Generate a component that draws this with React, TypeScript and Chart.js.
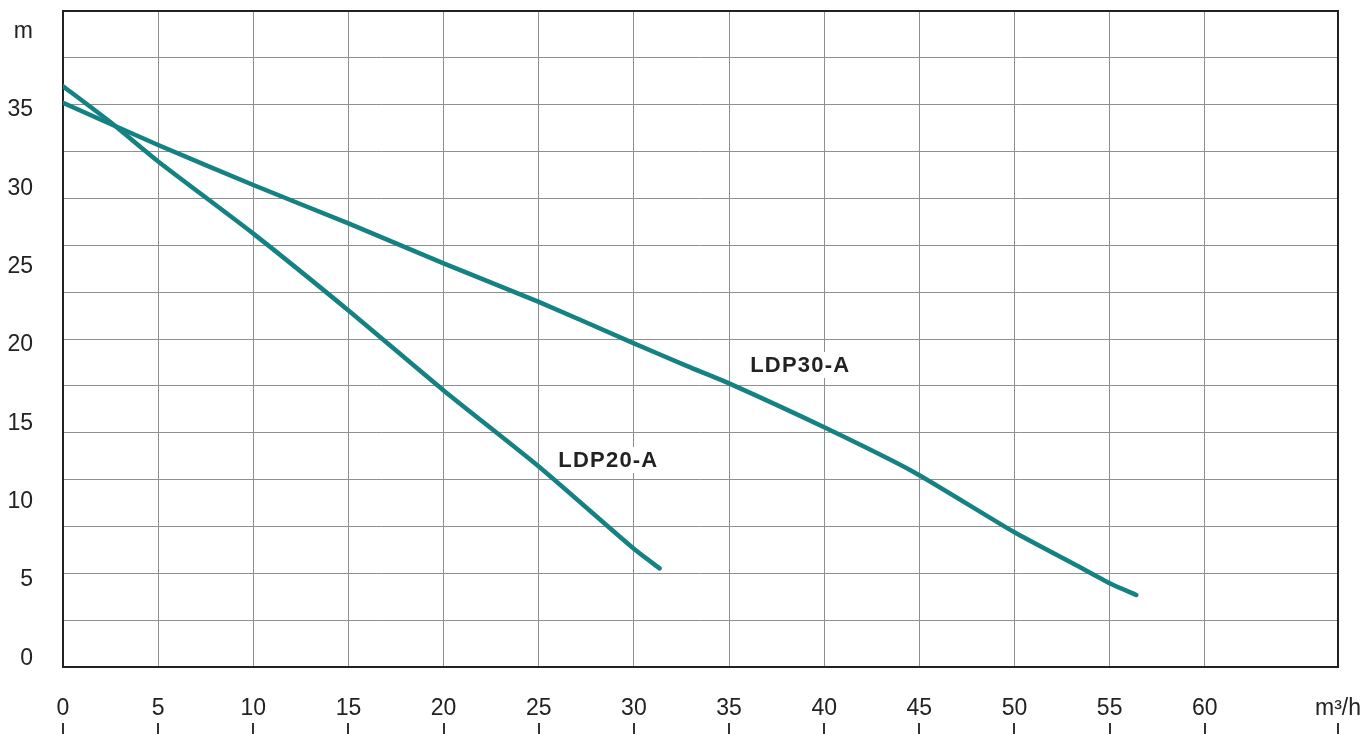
import React, { useEffect, useRef } from "react";
import { Chart, registerables } from "chart.js";

Chart.register(...registerables);

// ---- data (flow m³/h, head m) ----
const FLOW_20 = [0, 2.5, 5, 10, 15, 20, 25, 30, 31.35];
const HEAD_20 = [36.5, 34.2, 31.7, 27.1, 22.2, 17.1, 12.25, 7.0, 5.75];
const FLOW_30 = [0, 5, 10, 15, 20, 25, 30, 32.8, 35, 40, 44.7, 50, 53.4, 55, 56.4];
const HEAD_30 = [35.45, 32.75, 30.2, 27.75, 25.2, 22.75, 20.1, 18.65, 17.55, 14.75, 11.9, 8.05, 5.85, 4.8, 4.05];

const SERIES_NAMES = ["LDP20-A", "LDP30-A"];
const X_TICKS = [0, 5, 10, 15, 20, 25, 30, 35, 40, 45, 50, 55, 60];
const X_UNIT = "m³/h";
const Y_TICKS = [0, 5, 10, 15, 20, 25, 30, 35];
const Y_UNIT = "m";
const Y_UNIT_AT = 40;

// axis ranges
const X_MIN = 0;
const X_MAX = 67;
const Y_MIN = -0.54;
const Y_MAX = 41.3;
const Y_GRID_COUNT = 14;

// annotation anchors (data coords)
const LABEL_POS = [
  { x: 28.66, y: 12.66 },
  { x: 38.74, y: 18.72 },
];

const LINE_COLOR = "#148282";
const GRID_COLOR = "#8f8f8f";
const DARK = "#222222";
const FONT = "'Liberation Sans', Arial, Helvetica, sans-serif";

const near = (a: number, b: number) => Math.abs(a - b) < 1e-6;

const zeroPad = (axis: any) => {
  axis.paddingTop = 0;
  axis.paddingBottom = 0;
  axis.paddingLeft = 0;
  axis.paddingRight = 0;
};

export default function App() {
  const ref = useRef<HTMLCanvasElement | null>(null);

  useEffect(() => {
    document.body.style.margin = "0";
    document.body.style.overflow = "hidden";
    const canvas = ref.current;
    if (!canvas) return;

    const yGrid: number[] = [];
    for (let k = 1; k < Y_GRID_COUNT; k++) {
      yGrid.push(Y_MIN + (k * (Y_MAX - Y_MIN)) / Y_GRID_COUNT);
    }
    const yLabelVals = [...Y_TICKS, Y_UNIT_AT];
    const isYLabel = (v: number) => yLabelVals.some((t) => near(t, v));

    const framePlugin = {
      id: "frame",
      beforeDatasetsDraw(chart: any) {
        const { ctx, chartArea } = chart;
        ctx.save();
        ctx.strokeStyle = DARK;
        ctx.lineWidth = 2;
        ctx.strokeRect(
          chartArea.left,
          chartArea.top,
          chartArea.right - chartArea.left,
          chartArea.bottom - chartArea.top
        );
        ctx.restore();
      },
      afterDatasetsDraw(chart: any) {
        const { ctx } = chart;
        const xs = chart.scales.x;
        const ys = chart.scales.y;
        ctx.save();
        ctx.font = `bold 22px ${FONT}`;
        try {
          (ctx as any).letterSpacing = "1.2px";
        } catch (e) {}
        ctx.textAlign = "center";
        ctx.textBaseline = "middle";
        SERIES_NAMES.forEach((name, i) => {
          const px = xs.getPixelForValue(LABEL_POS[i].x);
          const py = ys.getPixelForValue(LABEL_POS[i].y);
          const w = ctx.measureText(name).width;
          ctx.fillStyle = "#ffffff";
          ctx.fillRect(px - w / 2 - 4, py - 13, w + 8, 26);
          ctx.fillStyle = DARK;
          ctx.fillText(name, px, py + 1);
        });
        ctx.restore();
      },
      afterDraw(chart: any) {
        const { ctx } = chart;
        const xs = chart.scales.x;
        ctx.save();
        ctx.strokeStyle = "#333";
        ctx.lineWidth = 2;
        xs.ticks.forEach((t: any) => {
          const px = Math.round(xs.getPixelForValue(t.value));
          ctx.beginPath();
          ctx.moveTo(px, xs.top + 56);
          ctx.lineTo(px, chart.height);
          ctx.stroke();
        });
        ctx.restore();
      },
    };

    const chart = new Chart(canvas, {
      type: "line",
      data: {
        datasets: [
          {
            label: SERIES_NAMES[0],
            data: FLOW_20.map((x, i) => ({ x, y: HEAD_20[i] })),
            borderColor: LINE_COLOR,
            borderWidth: 4.5,
            pointRadius: 0,
            tension: 0.2,
            borderCapStyle: "round",
            borderJoinStyle: "round",
            fill: false,
          },
          {
            label: SERIES_NAMES[1],
            data: FLOW_30.map((x, i) => ({ x, y: HEAD_30[i] })),
            borderColor: LINE_COLOR,
            borderWidth: 4.5,
            pointRadius: 0,
            tension: 0.2,
            borderCapStyle: "round",
            borderJoinStyle: "round",
            fill: false,
          },
        ],
      },
      options: {
        animation: false,
        responsive: true,
        maintainAspectRatio: false,
        layout: { padding: { top: 11, right: 25, left: 0, bottom: 0 } },
        plugins: {
          legend: { display: false },
          tooltip: { enabled: false },
        },
        scales: {
          x: {
            type: "linear",
            min: X_MIN,
            max: X_MAX,
            afterBuildTicks: (axis: any) => {
              axis.ticks = [...X_TICKS, X_MAX].map((v) => ({ value: v }));
            },
            afterFit: (axis: any) => {
              axis.height = 67;
              zeroPad(axis);
            },
            border: { display: false },
            grid: {
              drawTicks: false,
              lineWidth: 1,
              color: (c: any) =>
                c.tick && (near(c.tick.value, X_MIN) || near(c.tick.value, X_MAX))
                  ? "rgba(0,0,0,0)"
                  : GRID_COLOR,
            },
            ticks: {
              autoSkip: false,
              maxRotation: 0,
              padding: 28,
              color: DARK,
              font: { family: FONT, size: 23 },
              callback: (v: any) => (near(Number(v), X_MAX) ? X_UNIT : String(v)),
            },
          },
          y: {
            type: "linear",
            min: Y_MIN,
            max: Y_MAX,
            afterBuildTicks: (axis: any) => {
              const vals = [...yGrid, ...yLabelVals].sort((a, b) => a - b);
              axis.ticks = vals.map((v) => ({ value: v }));
            },
            afterFit: (axis: any) => {
              axis.width = 63;
              zeroPad(axis);
            },
            border: { display: false },
            grid: {
              drawTicks: false,
              lineWidth: 1,
              color: (c: any) =>
                c.tick && isYLabel(c.tick.value) ? "rgba(0,0,0,0)" : GRID_COLOR,
            },
            ticks: {
              autoSkip: false,
              padding: 30,
              color: DARK,
              font: { family: FONT, size: 23 },
              callback: (v: any) => {
                const n = Number(v);
                if (near(n, Y_UNIT_AT)) return Y_UNIT;
                if (Y_TICKS.some((t) => near(t, n))) return String(n);
                return "";
              },
            },
          },
        },
      },
      plugins: [framePlugin],
    } as any);

    return () => chart.destroy();
  }, []);

  return (
    <div style={{ position: "relative", width: "1363px", height: "734px" }}>
      <canvas ref={ref} />
    </div>
  );
}
